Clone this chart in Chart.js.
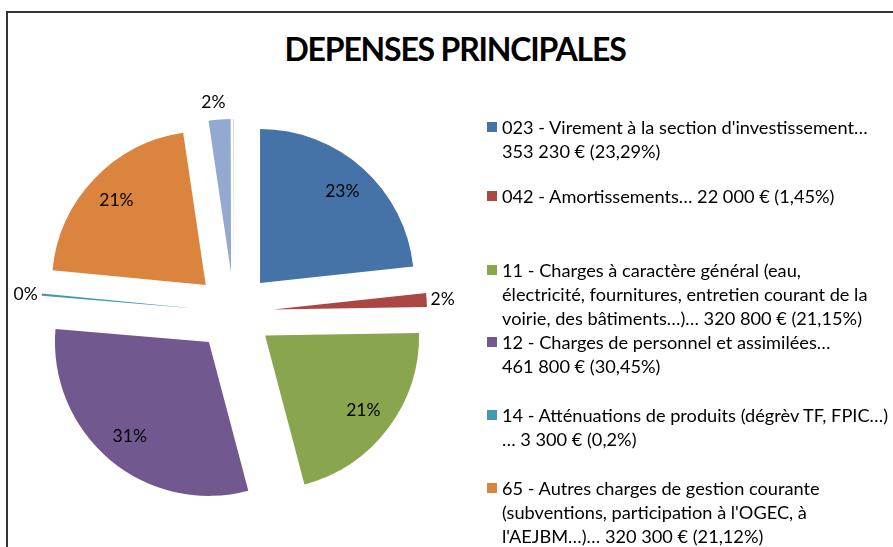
<!DOCTYPE html>
<html>
<head>
<meta charset="utf-8">
<script src="https://cdn.jsdelivr.net/npm/chart.js@4/dist/chart.umd.min.js"></script>
<style>
    html, body { margin: 0; padding: 0; background: #fff; overflow: hidden; }
    body { width: 893px; height: 547px; position: relative; font-family: Lato, 'Open Sans', sans-serif; }
    #frame { position: absolute; left: 6px; top: 11px; width: 1000px; height: 700px;
             border-left: 2px solid #333; border-top: 2px solid #333; }
    #title { position: absolute; left: 0; width: 910px; top: 29px; text-align: center;
             font-weight: 700; font-size: 32px; color: #000; letter-spacing: -1.2px; }
    #pie { position: absolute; left: 0; top: 0; }
    #legend { position: absolute; left: 487px; top: 115px; width: 406px; }
    .item { position: absolute; left: 0; font-size: 18.2px; line-height: 24px; color: #000; white-space: nowrap; }
    .item .box { position: absolute; left: 0; top: 7px; width: 10px; height: 10px; }
    .item .txt { margin-left: 15px; }
</style>
</head>
<body>
<div id="frame"></div>
<div id="title">DEPENSES PRINCIPALES</div>
<canvas id="pie" width="893" height="547"></canvas>
<div id="legend"></div>
<script>
const categories = [
    ["023 - Virement à la section d'investissement…", "353 230 € (23,29%)"],
    ["042 - Amortissements… 22 000 € (1,45%)"],
    ["11 - Charges à caractère général (eau,", "électricité, fournitures, entretien courant de la", "voirie, des bâtiments…)… 320 800 € (21,15%)"],
    ["12 - Charges de personnel et assimilées…", "461 800 € (30,45%)"],
    ["14 - Atténuations de produits (dégrèv TF, FPIC…)", "… 3 300 € (0,2%)"],
    ["65 - Autres charges de gestion courante", "(subventions, participation à l'OGEC, à", "l'AEJBM…)… 320 300 € (21,12%)"],
    [],
    [],
];
const amounts = [353230, 22000, 320800, 461800, 3300, 320300, 34800, 700];
const colors = ['#4572A7', '#AA4643', '#89A54E', '#71588F', '#4198AF', '#DB843D', '#93A9CF', '#D19392'];

const EXPLODE = 39;

// Excel-style percentages: rounded so they add up to 100
function roundedPercents(values) {
    const total = values.reduce((a, b) => a + b, 0);
    const raw = values.map(v => v / total * 100);
    const out = raw.map(Math.floor);
    let left = 100 - out.reduce((a, b) => a + b, 0);
    const order = raw.map((r, i) => i).sort((a, b) => (raw[b] - out[b]) - (raw[a] - out[a]));
    for (let k = 0; k < left; k++) out[order[k]]++;
    return { raw, out };
}
const pct = roundedPercents(amounts);

// pull every slice out from the centre by the same distance
const explodedSlices = {
    id: 'explodedSlices',
    beforeDatasetDraw(chart, args) {
        const ctx = chart.ctx;
        args.meta.data.forEach(arc => {
            const mid = (arc.startAngle + arc.endAngle) / 2;
            ctx.save();
            ctx.translate(Math.cos(mid) * EXPLODE, Math.sin(mid) * EXPLODE);
            arc.draw(ctx, chart.chartArea);
            ctx.restore();
        });
        return false;
    }
};

const pieLabels = {
    id: 'pieLabels',
    afterDatasetsDraw(chart) {
        const ctx = chart.ctx;
        const meta = chart.getDatasetMeta(0);
        ctx.save();
        ctx.font = '17.5px Lato, "Open Sans", sans-serif';
        ctx.fillStyle = '#000';
        meta.data.forEach((arc, i) => {
            if (pct.raw[i] < 0.1) return;
            const { x, y, startAngle, endAngle, outerRadius } = arc;
            const mid = (startAngle + endAngle) / 2;
            const dx = Math.cos(mid), dy = Math.sin(mid);
            const text = pct.out[i] + '%';
            if (pct.raw[i] >= 3) {
                const r = EXPLODE + outerRadius * 0.8;
                ctx.textAlign = 'center';
                ctx.textBaseline = 'middle';
                ctx.fillText(text, x + dx * r, y + dy * r);
            } else {
                const r = EXPLODE + outerRadius + 3;
                const px = x + dx * r, py = y + dy * r;
                if (Math.abs(dx) > Math.abs(dy)) {
                    ctx.textAlign = dx > 0 ? 'left' : 'right';
                    ctx.textBaseline = 'middle';
                    ctx.fillText(text, px + (dx > 0 ? 1 : -1), py);
                } else {
                    ctx.textAlign = 'center';
                    ctx.textBaseline = dy < 0 ? 'bottom' : 'top';
                    ctx.fillText(text, px - 6, py - 5);
                }
            }
        });
        ctx.restore();
    }
};

new Chart(document.getElementById('pie').getContext('2d'), {
    type: 'pie',
    data: {
        labels: categories,
        datasets: [{
            data: amounts,
            backgroundColor: colors,
            borderWidth: 0,
        }]
    },
    options: {
        responsive: false,
        animation: false,
        radius: 154,
        layout: { padding: { left: 20, right: 445, top: 100, bottom: 23 } },
        plugins: {
            legend: { display: false },
            tooltip: { enabled: false },
        }
    },
    plugins: [explodedSlices, pieLabels]
});

// legend drawn as html so each entry wraps like the original
const legend = document.getElementById('legend');
const itemTops = [0, 69, 143, 215, 288, 361];
categories.forEach((lines, i) => {
    if (!lines.length) return;
    const el = document.createElement('div');
    el.className = 'item';
    el.style.top = itemTops[i] + 'px';
    el.innerHTML = `<div class="box" style="background:${colors[i]}"></div><div class="txt">${lines.join('<br>')}</div>`;
    legend.appendChild(el);
});
</script>
</body>
</html>
